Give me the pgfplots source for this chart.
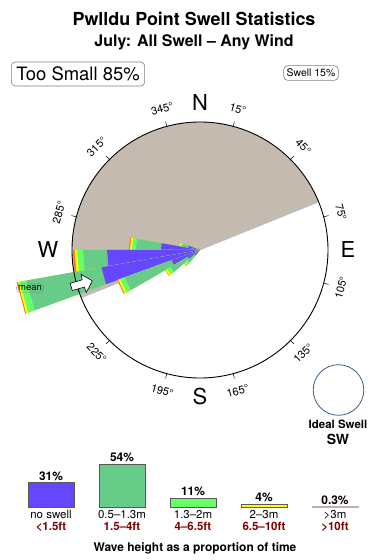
\documentclass[border=0pt]{standalone}
\usepackage{fontspec}
\setmainfont{TeX Gyre Heros}
\usepackage{pgfplots}
\pgfplotsset{compat=1.18}
\definecolor{noswell}{RGB}{102,71,255}
\definecolor{smallg}{RGB}{102,204,136}
\definecolor{midg}{RGB}{102,255,102}
\definecolor{yel}{RGB}{255,255,0}
\definecolor{orng}{RGB}{255,102,51}
\definecolor{shadow}{RGB}{196,186,175}
\definecolor{dred}{RGB}{128,0,0}
\definecolor{ideal}{RGB}{60,95,130}
\definecolor{edgeblue}{RGB}{170,200,230}
\definecolor{thin}{RGB}{195,175,170}
\begin{document}
\begin{tikzpicture}
\useasboundingbox (0,0) rectangle (390bp,560bp);
% ---------------- rose ----------------
\begin{axis}[at={(0,0)}, anchor=south west, width=390bp, height=560bp, scale only axis,
  xmin=-200, xmax=190, ymin=-310, ymax=250, hide axis, clip=false]
\fill[shadow] (axis cs:0,0) -- (axis cs:118.68,47.95) arc[start angle=22, end angle=202, radius=128bp] -- cycle;
\draw[edgeblue, line width=0.5pt] (axis cs:-118.68,-47.95) -- (axis cs:118.68,47.95);
% wedges: (math angle, radius); bearing b -> angle 90-b
% bearing 280-290
\addplot[data cs=polar, fill=orng, draw=none] coordinates {(0,0) (160,22) (170,22)};
\addplot[data cs=polar, fill=yel, draw=none] coordinates {(0,0) (160,21.5) (170,21.5)};
\addplot[data cs=polar, fill=midg, draw=none] coordinates {(0,0) (160,20) (170,20)};
\addplot[data cs=polar, fill=smallg, draw=none] coordinates {(0,0) (160,18) (170,18)};
\addplot[data cs=polar, fill=noswell, draw=none] coordinates {(0,0) (160,12) (170,12)};
% bearing 270-280
\addplot[data cs=polar, fill=orng, draw=none] coordinates {(0,0) (170,71) (180,71)};
\addplot[data cs=polar, fill=yel, draw=none] coordinates {(0,0) (170,70) (180,70)};
\addplot[data cs=polar, fill=midg, draw=none] coordinates {(0,0) (170,68) (180,68)};
\addplot[data cs=polar, fill=smallg, draw=none] coordinates {(0,0) (170,64) (180,64)};
\addplot[data cs=polar, fill=noswell, draw=none] coordinates {(0,0) (170,39) (180,39)};
% bearing 260-270
\addplot[data cs=polar, fill=orng, draw=none] coordinates {(0,0) (180,127) (190,127)};
\addplot[data cs=polar, fill=yel, draw=none] coordinates {(0,0) (180,125.5) (190,125.5)};
\addplot[data cs=polar, fill=midg, draw=none] coordinates {(0,0) (180,123) (190,123)};
\addplot[data cs=polar, fill=smallg, draw=none] coordinates {(0,0) (180,117) (190,117)};
\addplot[data cs=polar, fill=noswell, draw=none] coordinates {(0,0) (180,93) (190,93)};
% bearing 250-260
\addplot[data cs=polar, fill=orng, draw=none] coordinates {(0,0) (190,186) (200,186)};
\addplot[data cs=polar, fill=yel, draw=none] coordinates {(0,0) (190,185) (200,185)};
\addplot[data cs=polar, fill=midg, draw=none] coordinates {(0,0) (190,183) (200,183)};
\addplot[data cs=polar, fill=smallg, draw=none] coordinates {(0,0) (190,176) (200,176)};
\addplot[data cs=polar, fill=noswell, draw=none] coordinates {(0,0) (190,100) (200,100)};
% bearing 240-250
\addplot[data cs=polar, fill=orng, draw=none] coordinates {(0,0) (200,88) (210,88)};
\addplot[data cs=polar, fill=yel, draw=none] coordinates {(0,0) (200,87) (210,87)};
\addplot[data cs=polar, fill=midg, draw=none] coordinates {(0,0) (200,85) (210,85)};
\addplot[data cs=polar, fill=smallg, draw=none] coordinates {(0,0) (200,80) (210,80)};
\addplot[data cs=polar, fill=noswell, draw=none] coordinates {(0,0) (200,30) (210,30)};
% bearing 230-240
\addplot[data cs=polar, fill=orng, draw=none] coordinates {(0,0) (210,40.5) (220,40.5)};
\addplot[data cs=polar, fill=yel, draw=none] coordinates {(0,0) (210,40) (220,40)};
\addplot[data cs=polar, fill=midg, draw=none] coordinates {(0,0) (210,38) (220,38)};
\addplot[data cs=polar, fill=smallg, draw=none] coordinates {(0,0) (210,34) (220,34)};
\addplot[data cs=polar, fill=noswell, draw=none] coordinates {(0,0) (210,14) (220,14)};
% bearing 220-230
\addplot[data cs=polar, fill=orng, draw=none] coordinates {(0,0) (220,21) (230,21)};
\addplot[data cs=polar, fill=yel, draw=none] coordinates {(0,0) (220,20.5) (230,20.5)};
\addplot[data cs=polar, fill=midg, draw=none] coordinates {(0,0) (220,19) (230,19)};
\addplot[data cs=polar, fill=smallg, draw=none] coordinates {(0,0) (220,16) (230,16)};
\addplot[data cs=polar, fill=noswell, draw=none] coordinates {(0,0) (220,7) (230,7)};
% circle
\draw[black, line width=0.9pt] (axis cs:0,0) circle[radius=128bp];
% mean arrow
\addplot[data cs=polar, fill=white, draw=black, line width=0.6pt] coordinates {(196,112) (200.5,121.5) (197.8,121.5) (197.6,134) (194.4,134) (194.2,121.5) (191.5,121.5) (196,112)};
\node[draw=gray, rounded corners=3bp, inner sep=1.5bp, font=\fontsize{9.5}{11}\selectfont] at (axis cs:-170,-38) {mean};
% titles
\node[font=\fontsize{18}{20}\selectfont\bfseries] at (axis cs:-6,231) {Pwlldu Point Swell Statistics};
\node[font=\fontsize{16}{18}\selectfont\bfseries] at (axis cs:-6,208) {July: All Swell -- Any Wind};
\node[draw=gray, rounded corners=4bp, line width=0.6pt, minimum height=24bp, inner xsep=5bp, font=\fontsize{18.5}{20}\selectfont] at (axis cs:-122,176) {Too Small 85\%};
\node[draw=gray, rounded corners=4bp, line width=0.6pt, minimum height=14bp, inner xsep=3bp, font=\fontsize{10.5}{12}\selectfont] at (axis cs:111,177) {Swell 15\%};
% compass letters
\node[font=\fontsize{22}{22}\selectfont] at (axis cs:0,147) {N};
\node[font=\fontsize{22}{22}\selectfont] at (axis cs:148,0) {E};
\node[font=\fontsize{22}{22}\selectfont] at (axis cs:0,-147) {S};
\node[font=\fontsize{22}{22}\selectfont] at (axis cs:-152,0) {W};
% ideal swell
\draw[ideal, line width=0.8pt] (axis cs:138.5,-140) circle[radius=25.3bp];
\node[font=\fontsize{11.5}{13}\selectfont\bfseries] at (axis cs:138,-174) {Ideal Swell};
\node[font=\fontsize{14}{16}\selectfont\bfseries] at (axis cs:138,-189) {SW};
\end{axis}
\coordinate (C) at (200bp,310bp);
\foreach \b/\r in {15/-15,45/-45,75/-75,105/75,135/45,165/15,195/-15,225/-45,285/75,315/45,345/15}{
  \draw[line width=0.5pt] ([shift={({90-\b}:127bp)}]C) -- ([shift={({90-\b}:133bp)}]C);
  \node[rotate=\r, inner sep=0pt, font=\fontsize{11}{12}\selectfont] at ([shift={({90-\b}:146bp)}]C) {\b°};
}
% ---------------- legend bars ----------------
\begin{axis}[at={(0bp,53bp)}, anchor=south west, width=390bp, height=60bp, scale only axis,
  xmin=0, xmax=390, ymin=0, ymax=75.95, clip=false,
  axis x line=bottom, axis y line=none, ytick=\empty,
  x axis line style={draw=none}, xtick style={draw=none},
  xtick={51,122,193,264,335},
  xticklabels={{no swell\\\textcolor{dred}{\bfseries <1.5ft}},{0.5--1.3m\\\textcolor{dred}{\bfseries 1.5--4ft}},{1.3--2m\\\textcolor{dred}{\bfseries 4--6.5ft}},{2--3m\\\textcolor{dred}{\bfseries 6.5--10ft}},{>3m\\\textcolor{dred}{\bfseries >10ft}}},
  xticklabel style={align=center, font=\fontsize{11.5}{12}\selectfont, inner ysep=1bp},
  xlabel={Wave height as a proportion of time},
  xlabel style={font=\fontsize{12}{14}\selectfont\bfseries, inner ysep=1bp, yshift=-9bp},
  every node near coord/.append style={font=\fontsize{12}{14}\selectfont\bfseries, anchor=south, inner ysep=2bp},
]
\addplot[ybar, bar width=46, fill=noswell, draw=black!65, nodes near coords={31\%}] coordinates {(51,31)};
\addplot[ybar, bar width=46, fill=smallg, draw=black!65, nodes near coords={54\%}] coordinates {(122,54)};
\addplot[ybar, bar width=46, fill=midg, draw=black!65, nodes near coords={11\%}] coordinates {(193,11)};
\addplot[ybar, bar width=46, fill=yel, draw=black!65, nodes near coords={4\%}] coordinates {(264,4)};
\addplot[ybar, bar width=46, fill=thin, draw=thin, line width=1pt, nodes near coords={0.3\%}] coordinates {(335,0.3)};
\end{axis}
\end{tikzpicture}
\end{document}
